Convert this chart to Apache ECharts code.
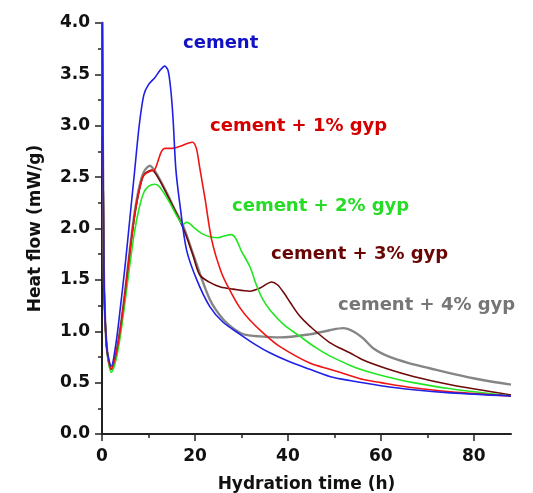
<!DOCTYPE html>
<html>
<head>
<meta charset="utf-8">
<script src="https://cdn.jsdelivr.net/npm/echarts@6/dist/echarts.min.js"></script>
<style>
  html, body { margin: 0; padding: 0; background: #fff; }
  #chart { width: 533px; height: 493px; }
</style>
</head>
<body>
<div id="chart"></div>
<script>
// hydration time (h) and heat flow (mW/g)
var cementT = [0, 0.4, 1, 2, 3, 4, 5, 6, 7, 8, 9, 10, 11.4, 12.5, 13.5, 14.2, 14.8, 15.3, 15.9, 16.8, 18.2, 20.4, 23.2, 26, 29.7, 33, 36.1, 40, 44.7, 49, 53.3, 60, 67, 75, 88];
var cementV = [4.6, 1.6, 0.85, 0.66, 0.88, 1.25, 1.65, 2.1, 2.55, 3.0, 3.3, 3.4, 3.47, 3.54, 3.58, 3.54, 3.35, 3.06, 2.57, 2.22, 1.79, 1.5, 1.24, 1.09, 0.97, 0.87, 0.79, 0.71, 0.63, 0.56, 0.52, 0.47, 0.43, 0.4, 0.37];

var gyp1T = [0, 0.4, 1, 2, 3, 4, 5, 6, 7, 8, 9, 10.5, 11.3, 12, 12.8, 13.5, 15, 16.8, 18.5, 19.5, 20.3, 21, 22.2, 23.6, 25.7, 27.5, 29.5, 31.8, 35, 38.3, 44.7, 49, 53.3, 56.2, 60, 67, 75, 88];
var gyp1V = [4.6, 1.6, 0.85, 0.63, 0.77, 1.03, 1.38, 1.77, 2.12, 2.37, 2.52, 2.56, 2.57, 2.65, 2.75, 2.78, 2.78, 2.8, 2.83, 2.84, 2.78, 2.6, 2.28, 1.89, 1.57, 1.4, 1.24, 1.11, 0.97, 0.85, 0.69, 0.63, 0.57, 0.53, 0.5, 0.45, 0.41, 0.37];

var gyp2T = [0, 0.4, 1, 2, 3, 4, 5, 6, 7, 8, 9, 10, 11.4, 12.5, 14.6, 16, 17.5, 18.2, 18.8, 20, 21.5, 23.2, 25, 26.5, 27.8, 28.8, 30, 31.8, 33.3, 34.6, 36.1, 39, 42.6, 46, 49, 53.3, 56.2, 61, 67, 75, 88];
var gyp2V = [4.6, 1.6, 0.85, 0.6, 0.72, 0.97, 1.3, 1.65, 1.97, 2.2, 2.35, 2.41, 2.43, 2.4, 2.25, 2.13, 2.04, 2.06, 2.05, 2.0, 1.95, 1.92, 1.91, 1.93, 1.94, 1.9, 1.78, 1.63, 1.44, 1.31, 1.21, 1.07, 0.95, 0.84, 0.76, 0.67, 0.62, 0.56, 0.5, 0.44, 0.37];

var gyp3T = [0, 0.4, 1, 2, 3, 4, 5, 6, 7, 8, 9, 10.7, 12, 14, 17.5, 19.5, 21, 23, 25.5, 28.2, 31.8, 34, 36.5, 37.8, 39.2, 40.5, 42.5, 44.7, 49, 53.3, 56.2, 61, 67, 75, 88];
var gyp3V = [4.6, 1.6, 0.85, 0.63, 0.77, 1.03, 1.38, 1.77, 2.12, 2.37, 2.52, 2.57, 2.5, 2.33, 2.0, 1.75, 1.55, 1.48, 1.43, 1.41, 1.39, 1.42, 1.48, 1.45, 1.37, 1.28, 1.15, 1.05, 0.89, 0.79, 0.72, 0.64, 0.56, 0.48, 0.38];

var gyp4T = [0, 0.4, 1, 2, 3, 4, 5, 6, 7, 8, 9, 10.3, 11.5, 13.9, 15.5, 17.5, 20, 23.2, 26, 28.5, 30.5, 34, 38.3, 44.7, 49, 51.9, 54, 56.2, 58.5, 61.9, 66, 70.5, 76, 81.3, 88];
var gyp4V = [4.6, 1.6, 0.85, 0.63, 0.78, 1.05, 1.4, 1.8, 2.15, 2.4, 2.55, 2.61, 2.55, 2.35, 2.2, 2.02, 1.7, 1.31, 1.12, 1.02, 0.97, 0.95, 0.94, 0.97, 1.01, 1.03, 1.0, 0.93, 0.83, 0.75, 0.69, 0.64, 0.58, 0.53, 0.48];

var seriesNames = ['cement', 'cement + 1% gyp', 'cement + 2% gyp', 'cement + 3% gyp', 'cement + 4% gyp'];
var xTicks = [0, 20, 40, 60, 80];
var xMinorTicks = [10, 30, 50, 70];

var lineColors = ['#1f1fe6', '#f01515', '#22e622', '#6e0a0a', '#858585'];
var textColors = ['#1212c4', '#d40000', '#26dc26', '#6a0505', '#767676'];
var lineWidths = [1.6, 1.6, 1.6, 1.6, 2.4];
// where each curve label sits on the canvas (px)
var labelPos = [[183, 44], [210, 127], [232, 207], [271, 255], [338, 306]];

function pairs(t, v) {
  return t.map(function (x, i) { return [x, v[i]]; });
}
var allData = [pairs(cementT, cementV), pairs(gyp1T, gyp1V), pairs(gyp2T, gyp2V), pairs(gyp3T, gyp3V), pairs(gyp4T, gyp4V)];

var chart = echarts.init(document.getElementById('chart'));
var font = 'DejaVu Sans';

var option = {
  animation: false,
  backgroundColor: '#fff',
  grid: { left: 102, right: 22, top: 23, bottom: 59, outerBoundsMode: 'none' },
  xAxis: [{
    type: 'value',
    min: 0, max: 88,
    name: 'Hydration time (h)',
    nameLocation: 'middle',
    nameGap: 42,
    nameTextStyle: { fontFamily: font, fontWeight: 'bold', fontSize: 17, color: '#111' },
    axisLine: { show: true, lineStyle: { color: '#222', width: 2 } },
    axisTick: { show: true, length: 7, lineStyle: { color: '#222', width: 1.5 }, customValues: xTicks },
    axisLabel: { fontFamily: font, fontWeight: 'bold', fontSize: 17, color: '#111', margin: 14, customValues: xTicks },
    splitLine: { show: false }
  }, {
    type: 'value',
    min: 0, max: 88,
    position: 'bottom',
    axisLine: { show: false },
    axisTick: { show: true, length: 4, lineStyle: { color: '#222', width: 1.5 }, customValues: xMinorTicks },
    axisLabel: { show: false },
    splitLine: { show: false }
  }],
  yAxis: {
    type: 'value',
    min: 0, max: 4, interval: 0.5,
    name: 'Heat flow (mW/g)',
    nameLocation: 'middle',
    nameGap: 58,
    nameRotate: 90,
    nameTextStyle: { fontFamily: font, fontWeight: 'bold', fontSize: 17, color: '#111' },
    axisLine: { show: true, lineStyle: { color: '#222', width: 2 } },
    axisTick: { show: true, length: 7, lineStyle: { color: '#222', width: 1.5 } },
    minorTick: { show: true, splitNumber: 2, length: 4, lineStyle: { color: '#222', width: 1.5 } },
    axisLabel: { fontFamily: font, fontWeight: 'bold', fontSize: 17, color: '#111', margin: 12,
      formatter: function (v) { return v.toFixed(1); } },
    splitLine: { show: false }
  },
  series: allData.map(function (d, i) {
    return {
      name: seriesNames[i],
      type: 'line',
      data: d,
      showSymbol: false,
      smooth: 0.3,
      clip: true,
      lineStyle: { color: lineColors[i], width: lineWidths[i] },
      z: 10 - i
    };
  }),
  graphic: seriesNames.map(function (n, i) {
    return {
      type: 'text',
      left: labelPos[i][0],
      top: labelPos[i][1] - 10,
      z: 100,
      style: {
        text: n,
        fill: textColors[i],
        font: 'bold 18px "DejaVu Sans"'
      }
    };
  })
};
chart.setOption(option);
</script>
</body>
</html>
